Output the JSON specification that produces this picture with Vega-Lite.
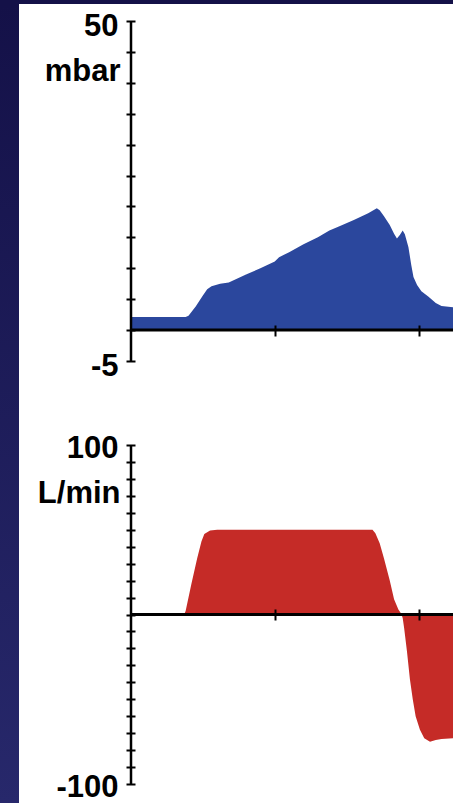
{
  "$schema": "https://vega.github.io/schema/vega-lite/v6.json",
  "padding": 0,
  "background": "white",
  "config": {
    "view": {"stroke": null},
    "concat": {"spacing": 0}
  },
  "datasets": {
    "pressure": [
      {"t": 0, "p": 2.1}, {"t": 0.38, "p": 2.1}, {"t": 0.4, "p": 2.3}, {"t": 0.45, "p": 3.8},
      {"t": 0.5, "p": 5.6}, {"t": 0.53, "p": 6.6}, {"t": 0.56, "p": 7.1}, {"t": 0.62, "p": 7.5},
      {"t": 0.68, "p": 7.7}, {"t": 0.8, "p": 9.0}, {"t": 0.9, "p": 10.0}, {"t": 1.0, "p": 11.1},
      {"t": 1.03, "p": 11.8}, {"t": 1.1, "p": 12.6}, {"t": 1.2, "p": 13.9}, {"t": 1.3, "p": 15.0},
      {"t": 1.38, "p": 16.1}, {"t": 1.45, "p": 16.8}, {"t": 1.55, "p": 17.8}, {"t": 1.65, "p": 18.9},
      {"t": 1.71, "p": 19.7}, {"t": 1.73, "p": 19.4}, {"t": 1.76, "p": 18.4}, {"t": 1.8, "p": 17.0},
      {"t": 1.83, "p": 15.6}, {"t": 1.85, "p": 14.8}, {"t": 1.87, "p": 15.4}, {"t": 1.89, "p": 16.1},
      {"t": 1.905, "p": 15.5}, {"t": 1.93, "p": 13.4}, {"t": 1.95, "p": 10.5}, {"t": 1.965, "p": 8.6},
      {"t": 1.99, "p": 7.3}, {"t": 2.02, "p": 6.3}, {"t": 2.07, "p": 5.4}, {"t": 2.12, "p": 4.4},
      {"t": 2.16, "p": 3.9}, {"t": 2.24, "p": 3.7}
    ],
    "flow": [
      {"t": 0, "f": 0}, {"t": 0.37, "f": 0}, {"t": 0.38, "f": 2}, {"t": 0.42, "f": 18},
      {"t": 0.46, "f": 33}, {"t": 0.49, "f": 43}, {"t": 0.51, "f": 47.5}, {"t": 0.55, "f": 49.5},
      {"t": 0.6, "f": 50}, {"t": 1.0, "f": 50}, {"t": 1.2, "f": 50}, {"t": 1.5, "f": 50},
      {"t": 1.68, "f": 50}, {"t": 1.7, "f": 48}, {"t": 1.73, "f": 42}, {"t": 1.76, "f": 33},
      {"t": 1.8, "f": 20}, {"t": 1.83, "f": 9}, {"t": 1.86, "f": 3}, {"t": 1.88, "f": 0.5},
      {"t": 1.89, "f": -2}, {"t": 1.9, "f": -8}, {"t": 1.92, "f": -22}, {"t": 1.94, "f": -38},
      {"t": 1.96, "f": -50}, {"t": 1.98, "f": -60}, {"t": 2.01, "f": -68}, {"t": 2.04, "f": -73},
      {"t": 2.08, "f": -75}, {"t": 2.12, "f": -74}, {"t": 2.16, "f": -73.5}, {"t": 2.24, "f": -73}
    ]
  },
  "bounds": "flush",
  "spacing": 0,
  "vconcat": [
    {
      "width": 453, "height": 4,
      "view": {"fill": "#141148", "stroke": null},
      "data": {"values": []},
      "mark": "point"
    },
    {
      "bounds": "flush",
      "spacing": 112,
      "hconcat": [
        {
          "width": 19, "height": 799,
          "view": {"fill": {"gradient": "linear", "x1": 0, "y1": 0, "x2": 0, "y2": 1, "stops": [{"offset": 0, "color": "#141148"}, {"offset": 1, "color": "#27286b"}]}, "stroke": null},
          "data": {"values": []},
          "mark": "point"
        },
        {
          "bounds": "flush",
          "spacing": 0,
          "vconcat": [
            {
              "width": 1, "height": 17,
              "data": {"values": []},
              "mark": "point"
            },
            {
              "bounds": "flush",
              "spacing": 84,
              "vconcat": [
                {
                  "width": 322, "height": 340,
                  "layer": [
                    {
                      "data": {"name": "pressure"},
                      "mark": {"type": "area", "color": "#2b479d", "interpolate": "linear", "clip": true},
                      "encoding": {
                        "x": {"field": "t", "type": "quantitative",
                          "scale": {"domain": [0, 2.24], "nice": false, "zero": false},
                          "axis": {"orient": "bottom", "values": [1, 2], "tickCount": 100, "offset": -36, "tickSize": 11, "tickWidth": 2, "tickColor": "black", "labels": false, "domain": false, "grid": false, "title": null, "zindex": 1}},
                        "y": {"field": "p", "type": "quantitative",
                          "scale": {"domain": [-5, 50], "nice": false, "zero": false},
                          "axis": {"orient": "left", "values": [-5, 0, 5, 10, 15, 20, 25, 30, 35, 40, 45, 50], "tickCount": 100, "offset": -4, "domain": false, "grid": false, "tickSize": 9, "tickWidth": 2, "tickColor": "black", "zindex": 1,
                            "labelExpr": "datum.value == 50 ? '50' : datum.value == -5 ? '-5' : ''",
                            "labelPadding": 8, "labelFont": "Liberation Sans", "labelFontSize": 31, "labelFontWeight": "bold", "labelColor": "black", "labelBaseline": "middle", "labelOffset": 5, "labelOverlap": false, "labelFlush": false, "labelBound": false,
                            "title": "mbar", "titleAngle": 0, "titleAlign": "right", "titleBaseline": "middle", "titleX": -15, "titleY": 50, "titleFont": "Liberation Sans", "titleFontSize": 31, "titleFontWeight": "bold", "titleColor": "black"}}
                      }
                    },
                    {
                      "data": {"values": [{}]},
                      "mark": {"type": "rule", "strokeWidth": 3, "color": "black"},
                      "encoding": {"y": {"datum": 0}}
                    },
                    {
                      "data": {"values": [{}]},
                      "mark": {"type": "rule", "strokeWidth": 2.5, "color": "black"},
                      "encoding": {"x": {"datum": 0}}
                    }
                  ]
                },
                {
                  "width": 322, "height": 339,
                  "layer": [
                    {
                      "data": {"name": "flow"},
                      "mark": {"type": "area", "color": "#c52b27", "interpolate": "linear", "clip": true},
                      "encoding": {
                        "x": {"field": "t", "type": "quantitative",
                          "scale": {"domain": [0, 2.24], "nice": false, "zero": false},
                          "axis": {"orient": "bottom", "values": [1, 2], "tickCount": 100, "offset": -175, "tickSize": 11, "tickWidth": 2, "tickColor": "black", "labels": false, "domain": false, "grid": false, "title": null, "zindex": 1}},
                        "y": {"field": "f", "type": "quantitative",
                          "scale": {"domain": [-100, 100], "nice": false, "zero": false},
                          "axis": {"orient": "left", "values": [-100, -90, -80, -70, -60, -50, -40, -30, -20, -10, 0, 10, 20, 30, 40, 50, 60, 70, 80, 90, 100], "tickCount": 100, "offset": -4, "domain": false, "grid": false, "tickSize": 9, "tickWidth": 2, "tickColor": "black", "zindex": 1,
                            "labelExpr": "datum.value == 100 ? '100' : datum.value == -100 ? '-100' : ''",
                            "labelPadding": 8, "labelFont": "Liberation Sans", "labelFontSize": 31, "labelFontWeight": "bold", "labelColor": "black", "labelBaseline": "middle", "labelOffset": 3, "labelOverlap": false, "labelFlush": false, "labelBound": false,
                            "title": "L/min", "titleAngle": 0, "titleAlign": "right", "titleBaseline": "middle", "titleX": -15, "titleY": 48, "titleFont": "Liberation Sans", "titleFontSize": 31, "titleFontWeight": "bold", "titleColor": "black"}}
                      }
                    },
                    {
                      "data": {"values": [{}]},
                      "mark": {"type": "rule", "strokeWidth": 3, "color": "black"},
                      "encoding": {"y": {"datum": 0}}
                    },
                    {
                      "data": {"values": [{}]},
                      "mark": {"type": "rule", "strokeWidth": 2.5, "color": "black"},
                      "encoding": {"x": {"datum": 0}}
                    }
                  ]
                }
              ]
            }
          ]
        }
      ]
    }
  ]
}
